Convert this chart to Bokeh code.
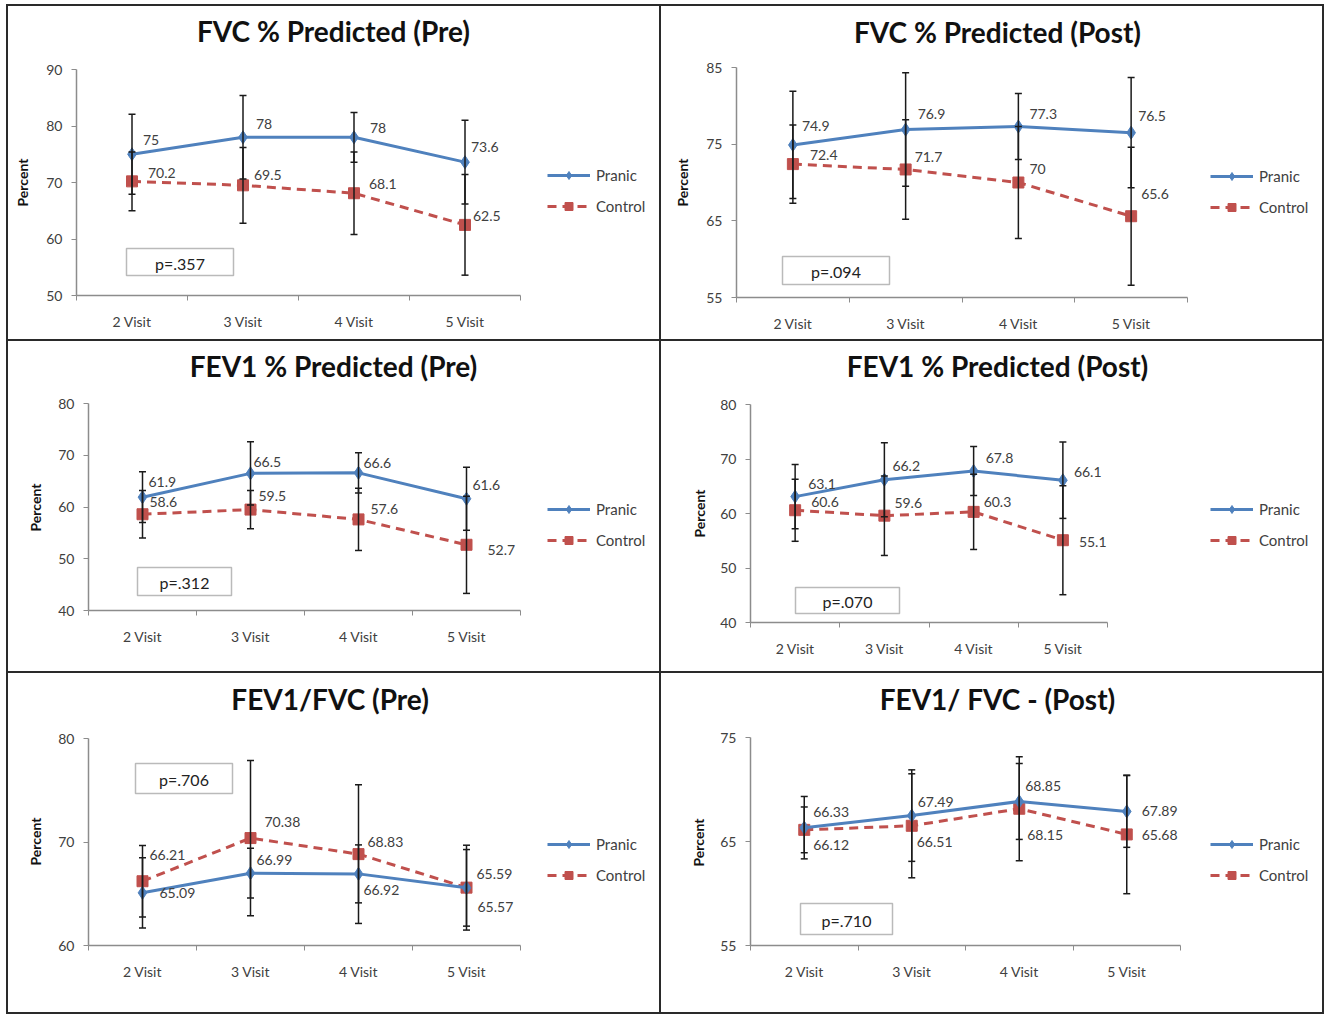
import math
from bokeh.plotting import figure
from bokeh.layouts import column, row
from bokeh.models import (ColumnDataSource, LabelSet, Label, BoxAnnotation, Legend,
                          LegendItem, FixedTicker, Range1d)
from bokeh.core.properties import value
from bokeh.embed import file_html
from bokeh.resources import INLINE

# ---------------- data ----------------
visits = ["2 Visit", "3 Visit", "4 Visit", "5 Visit"]
series_names = ["Pranic", "Control"]
titles = ["FVC % Predicted (Pre)", "FVC % Predicted (Post)",
          "FEV1 % Predicted (Pre)", "FEV1 % Predicted (Post)",
          "FEV1/FVC  (Pre)", "FEV1/ FVC - (Post)"]
p_values = ["p=.357", "p=.094", "p=.312", "p=.070", "p=.706", "p=.710"]
y_label = "Percent"

fvc_pre_pranic = [75, 78, 78, 73.6]
fvc_pre_pranic_sd = [7.1, 7.4, 4.4, 7.4]
fvc_pre_control = [70.2, 69.5, 68.1, 62.5]
fvc_pre_control_sd = [5.2, 6.7, 7.3, 8.9]

fvc_post_pranic = [74.9, 76.9, 77.3, 76.5]
fvc_post_pranic_sd = [7.0, 7.4, 4.3, 7.2]
fvc_post_control = [72.4, 71.7, 70, 65.6]
fvc_post_control_sd = [5.1, 6.5, 7.3, 9.0]

fev1_pre_pranic = [61.9, 66.5, 66.6, 61.6]
fev1_pre_pranic_sd = [4.9, 6.1, 3.9, 6.1]
fev1_pre_control = [58.6, 59.5, 57.6, 52.7]
fev1_pre_control_sd = [4.6, 3.7, 6.0, 9.4]

fev1_post_pranic = [63.1, 66.2, 67.8, 66.1]
fev1_post_pranic_sd = [5.9, 6.8, 4.5, 7.0]
fev1_post_control = [60.6, 59.6, 60.3, 55.1]
fev1_post_control_sd = [5.7, 7.3, 6.9, 10.0]

ratio_pre_pranic = [65.09, 66.99, 66.92, 65.57]
ratio_pre_pranic_sd = [3.4, 2.4, 2.8, 3.7]
ratio_pre_control = [66.21, 70.38, 68.83, 65.59]
ratio_pre_control_sd = [3.45, 7.5, 6.7, 4.1]

ratio_post_pranic = [66.33, 67.49, 68.85, 67.89]
ratio_post_pranic_sd = [3.0, 4.4, 3.65, 3.45]
ratio_post_control = [66.12, 66.51, 68.15, 65.68]
ratio_post_control_sd = [2.2, 5.0, 5.0, 5.7]

y_limits = [(50, 90), (55, 85), (40, 80), (40, 80), (60, 80), (55, 75)]
y_ticks = [[50, 60, 70, 80, 90], [55, 65, 75, 85], [40, 50, 60, 70, 80],
           [40, 50, 60, 70, 80], [60, 70, 80], [55, 65, 75]]

panels_data = [
    (fvc_pre_pranic, fvc_pre_pranic_sd, fvc_pre_control, fvc_pre_control_sd),
    (fvc_post_pranic, fvc_post_pranic_sd, fvc_post_control, fvc_post_control_sd),
    (fev1_pre_pranic, fev1_pre_pranic_sd, fev1_pre_control, fev1_pre_control_sd),
    (fev1_post_pranic, fev1_post_pranic_sd, fev1_post_control, fev1_post_control_sd),
    (ratio_pre_pranic, ratio_pre_pranic_sd, ratio_pre_control, ratio_pre_control_sd),
    (ratio_post_pranic, ratio_post_pranic_sd, ratio_post_control, ratio_post_control_sd),
]

# ---------------- layout / style (page pixels) ----------------
# origin = top-left of each panel canvas on the page; axes = (left, right, top, bottom)
panel_layout = [
    dict(origin=(8, 6), w=651, h=333, axes=(76, 520, 69, 295), title=(333, 30),
         ylab=(22, 182), legend=(547, 175), pbox=(126, 233, 248, 275)),
    dict(origin=(661, 6), w=661, h=333, axes=(736, 1187, 67, 297), title=(997, 31),
         ylab=(682, 182), legend=(1210, 176), pbox=(782, 889, 256, 284)),
    dict(origin=(8, 341), w=651, h=330, axes=(88, 520, 403, 610), title=(333, 365),
         ylab=(35, 507), legend=(547, 509), pbox=(137, 231, 567, 595)),
    dict(origin=(661, 341), w=661, h=330, axes=(750, 1107, 404, 622), title=(997, 365),
         ylab=(699, 513), legend=(1210, 509), pbox=(795, 899, 587, 613)),
    dict(origin=(8, 673), w=651, h=339, axes=(88, 520, 738, 945), title=(333, 698),
         ylab=(35, 841), legend=(547, 844), pbox=(135, 232, 763, 793)),
    dict(origin=(661, 673), w=661, h=339, axes=(750, 1180, 737, 945), title=(997, 698),
         ylab=(698, 842), legend=(1210, 844), pbox=(800, 892, 903, 934)),
]

# data-label offsets (dx right, dy up) in pixels
label_offsets = [
    ([(11, 14), (13, 13), (16, 9), (6, 15)], [(16, 8), (11, 10), (15, 9), (8, 9)]),
    ([(9, 19), (12, 16), (11, 13), (7, 17)], [(17, 9), (9, 12), (11, 14), (10, 22)]),
    ([(6, 15), (3, 11), (5, 10), (6, 14)], [(7, 12), (8, 14), (12, 10), (21, -5)]),
    ([(13, 13), (8, 14), (12, 13), (11, 8)], [(16, 8), (10, 13), (10, 10), (16, -2)]),
    ([(17, 0), (6, 13), (5, -16), (11, -19)], [(7, 26), (14, 16), (9, 12), (10, 14)]),
    ([(9, 16), (6, 14), (6, 15), (15, 0)], [(9, -15), (5, -16), (8, -26), (15, -1)]),
]

BLUE = "#4F81BD"
RED = "#C0504D"
FONT = "Lato"
AXIS_GRAY = "#8c8c8c"
TEXT = "#404040"
BORDER = "#2a2a2a"


def fmt(v):
    return "{:g}".format(v)


def make_panel(i):
    L = panel_layout[i]
    ox, oy = L["origin"]
    w, h = L["w"], L["h"]
    gl, gr, gt, gb = L["axes"]
    fl, fr, ft, fb = gl - ox, gr - ox, gt - oy, gb - oy
    pranic, pranic_sd, control, control_sd = panels_data[i]
    n = len(visits)
    xs = list(range(n))
    y0, y1 = y_limits[i]

    # The plot frame covers the whole panel; the axes are pinned (fixed_location) at the
    # edges of the data span and bounded to it, so every text lives inside the frame.
    cat_px = (fr - fl) / n
    x_start = -0.5 - fl / cat_px
    x_end = -0.5 + (w - fl) / cat_px
    unit_px = (fb - ft) / (y1 - y0)
    y_start = y0 - (h - fb) / unit_px
    y_end = y1 + ft / unit_px

    p = figure(width=w, height=h, title=None, x_range=Range1d(x_start, x_end),
               y_range=Range1d(y_start, y_end), output_backend="svg", toolbar_location=None,
               min_border=0, outline_line_color=None,
               background_fill_color="white", border_fill_color="white",
               styles={"background-color": "white"})
    p.frame_align = False
    p.grid.visible = False

    # x axis
    xa = p.xaxis[0]
    xa.fixed_location = y0
    xa.bounds = (-0.5, n - 0.5)
    xa.ticker = FixedTicker(ticks=xs, minor_ticks=[x - 0.5 for x in range(n + 1)])
    xa.major_label_overrides = {x: v for x, v in zip(xs, visits)}
    xa.major_tick_out = 0
    xa.major_tick_in = 0
    xa.minor_tick_out = 5
    xa.minor_tick_in = 0
    xa.minor_tick_line_color = AXIS_GRAY
    xa.axis_line_color = AXIS_GRAY
    xa.axis_line_width = 1.5
    xa.major_label_standoff = 12
    xa.major_label_text_font = FONT
    xa.major_label_text_font_size = "14px"
    xa.major_label_text_color = TEXT

    # y axis
    ya = p.yaxis[0]
    ya.fixed_location = -0.5
    ya.bounds = (y0, y1)
    ya.ticker = FixedTicker(ticks=y_ticks[i], minor_ticks=[])
    ya.major_tick_out = 5
    ya.major_tick_in = 0
    ya.major_tick_line_color = AXIS_GRAY
    ya.axis_line_color = AXIS_GRAY
    ya.axis_line_width = 1.5
    ya.major_label_standoff = 9
    ya.major_label_text_font = FONT
    ya.major_label_text_font_size = "14px"
    ya.major_label_text_color = TEXT

    src_p = ColumnDataSource(dict(
        x=xs, y=pranic, up=[m + s for m, s in zip(pranic, pranic_sd)],
        lo=[m - s for m, s in zip(pranic, pranic_sd)], label=[fmt(v) for v in pranic],
        dx=[o[0] for o in label_offsets[i][0]], dy=[o[1] for o in label_offsets[i][0]]))
    src_c = ColumnDataSource(dict(
        x=xs, y=control, up=[m + s for m, s in zip(control, control_sd)],
        lo=[m - s for m, s in zip(control, control_sd)], label=[fmt(v) for v in control],
        dx=[o[0] for o in label_offsets[i][1]], dy=[o[1] for o in label_offsets[i][1]]))

    lc = p.line("x", "y", source=src_c, line_color=RED, line_width=3, line_dash="9 6")
    mc = p.scatter("x", "y", source=src_c, marker="square", size=11, fill_color=RED,
                   line_color=RED)
    lp = p.line("x", "y", source=src_p, line_color=BLUE, line_width=3)
    mp = p.scatter("x", "y", source=src_p, marker="diamond", size=13, fill_color=BLUE,
                   line_color=BLUE)

    # error bars
    for src in (src_p, src_c):
        p.segment(x0="x", y0="lo", x1="x", y1="up", source=src, line_color="#1a1a1a",
                  line_width=1.5)
        p.scatter("x", "up", source=src, marker="dash", size=7, line_color="#1a1a1a",
                  line_width=1.5)
        p.scatter("x", "lo", source=src, marker="dash", size=7, line_color="#1a1a1a",
                  line_width=1.5)

    # data labels
    for src in (src_p, src_c):
        p.add_layout(LabelSet(x="x", y="y", text="label", x_offset="dx", y_offset="dy",
                              source=src, text_font=value(FONT), text_font_size="14px",
                              text_color=TEXT, text_align="left", text_baseline="middle"))

    # legend
    lx, ly = L["legend"]
    legend = Legend(items=[LegendItem(label=series_names[0], renderers=[lp, mp]),
                           LegendItem(label=series_names[1], renderers=[lc, mc])],
                    location=(lx - ox, h - (ly - oy + 41)), orientation="vertical",
                    glyph_width=43, glyph_height=20, label_height=20, spacing=11,
                    label_standoff=6, padding=0, margin=0, border_line_color=None,
                    background_fill_alpha=0, label_text_font=FONT,
                    label_text_font_size="15px", label_text_color=TEXT)
    p.add_layout(legend, "center")

    # p-value box
    bl, br, bt, bb = L["pbox"]
    bl, br, bt, bb = bl - ox, br - ox, bt - oy, bb - oy
    p.add_layout(BoxAnnotation(left=bl, right=br, top=bt, bottom=bb, left_units="canvas",
                               right_units="canvas", top_units="canvas", bottom_units="canvas",
                               fill_color=None, line_color="#1a1a1a", line_width=1.5))
    p.add_layout(Label(x=(bl + br) / 2, y=(bt + bb) / 2 + 1, x_units="canvas", y_units="canvas",
                       text=p_values[i], text_font=FONT, text_font_size="16px",
                       text_color="#222222", text_align="center", text_baseline="middle"))

    # y axis title
    yx, yy = L["ylab"]
    p.add_layout(Label(x=yx - ox, y=yy - oy, x_units="canvas", y_units="canvas",
                       text=y_label, angle=math.pi / 2, text_font=FONT,
                       text_font_style="bold", text_font_size="14px", text_color="#111111",
                       text_align="center", text_baseline="middle"))

    # chart title
    tx, ty = L["title"]
    p.add_layout(Label(x=tx - ox, y=ty - oy, x_units="canvas", y_units="canvas",
                       text=titles[i], text_font=FONT, text_font_style="bold",
                       text_font_size="28px", text_color="#111111", text_align="center",
                       text_baseline="middle"))
    return p


figs = [make_panel(i) for i in range(6)]
rows = [row(figs[0], figs[1], spacing=2), row(figs[2], figs[3], spacing=2),
        row(figs[4], figs[5], spacing=2)]
layout = column(*rows, spacing=2,
                styles={"background-color": BORDER, "padding": "2px",
                        "margin-left": "6px", "margin-top": "4px"})

open("out.html", "w").write(file_html(layout, INLINE))
